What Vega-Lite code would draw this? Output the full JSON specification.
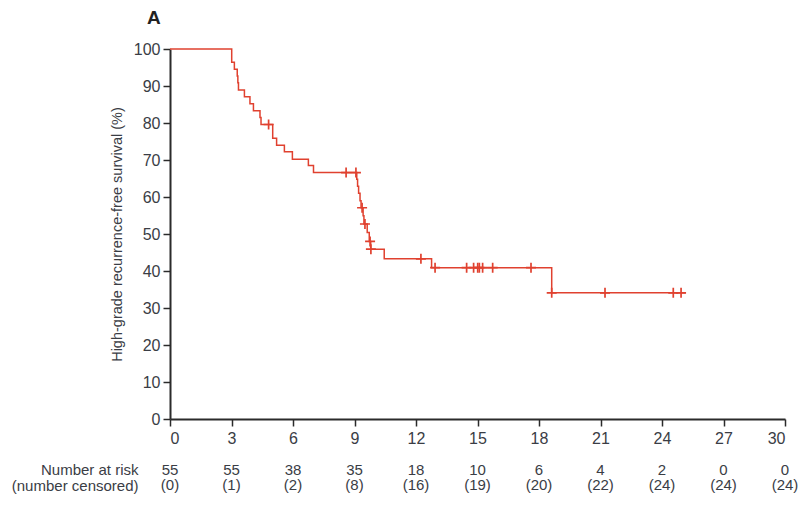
{
  "$schema": "https://vega.github.io/schema/vega-lite/v6.json",
  "padding": {"left": 11, "top": 9, "right": 10, "bottom": 5},
  "background": "white",
  "config": {
    "font": "Liberation Sans",
    "view": {"stroke": null},
    "axis": {
      "grid": false,
      "domainColor": "#2b2b2b",
      "domainWidth": 2,
      "tickColor": "#2b2b2b",
      "tickWidth": 1.5,
      "tickSize": 7,
      "labelFontSize": 16,
      "labelColor": "#3a3d45",
      "labelFont": "Liberation Sans",
      "labelOverlap": false,
      "titleFont": "Liberation Sans",
      "titleFontWeight": "normal",
      "titleColor": "#3a3d45"
    }
  },
  "datasets": {
    "curve": [
      {"month": 0, "survival": 100},
      {"month": 3.01, "survival": 96.4},
      {"month": 3.14, "survival": 94.5},
      {"month": 3.28, "survival": 92.7},
      {"month": 3.31, "survival": 90.9},
      {"month": 3.34, "survival": 88.9},
      {"month": 3.63, "survival": 87.1},
      {"month": 3.90, "survival": 85.2},
      {"month": 4.07, "survival": 83.3},
      {"month": 4.39, "survival": 81.5},
      {"month": 4.44, "survival": 79.6},
      {"month": 5.01, "survival": 75.9},
      {"month": 5.20, "survival": 74.0},
      {"month": 5.58, "survival": 72.2},
      {"month": 5.97, "survival": 70.2},
      {"month": 6.75, "survival": 68.5},
      {"month": 7.00, "survival": 66.6},
      {"month": 9.11, "survival": 64.8},
      {"month": 9.15, "survival": 62.9},
      {"month": 9.20, "survival": 61.0},
      {"month": 9.27, "survival": 59.0},
      {"month": 9.32, "survival": 57.1},
      {"month": 9.42, "survival": 54.9},
      {"month": 9.46, "survival": 52.7},
      {"month": 9.62, "survival": 50.4},
      {"month": 9.72, "survival": 48.0},
      {"month": 9.79, "survival": 45.9},
      {"month": 10.45, "survival": 43.3},
      {"month": 12.76, "survival": 40.9},
      {"month": 18.62, "survival": 34.1},
      {"month": 25.15, "survival": 34.1}
    ],
    "censor": [
      {"month": 4.81, "survival": 79.6},
      {"month": 8.59, "survival": 66.6},
      {"month": 9.07, "survival": 66.6},
      {"month": 9.37, "survival": 57.1},
      {"month": 9.51, "survival": 52.7},
      {"month": 9.76, "survival": 48.0},
      {"month": 9.80, "survival": 45.9},
      {"month": 12.24, "survival": 43.3},
      {"month": 12.93, "survival": 40.9},
      {"month": 14.47, "survival": 40.9},
      {"month": 14.81, "survival": 40.9},
      {"month": 15.01, "survival": 40.9},
      {"month": 15.09, "survival": 40.9},
      {"month": 15.25, "survival": 40.9},
      {"month": 15.74, "survival": 40.9},
      {"month": 17.61, "survival": 40.9},
      {"month": 18.62, "survival": 34.1},
      {"month": 21.22, "survival": 34.1},
      {"month": 24.55, "survival": 34.1},
      {"month": 24.93, "survival": 34.1}
    ],
    "risk": [
      {"month": 0, "row": "Number at risk", "label": "55"},
      {"month": 3, "row": "Number at risk", "label": "55"},
      {"month": 6, "row": "Number at risk", "label": "38"},
      {"month": 9, "row": "Number at risk", "label": "35"},
      {"month": 12, "row": "Number at risk", "label": "18"},
      {"month": 15, "row": "Number at risk", "label": "10"},
      {"month": 18, "row": "Number at risk", "label": "6"},
      {"month": 21, "row": "Number at risk", "label": "4"},
      {"month": 24, "row": "Number at risk", "label": "2"},
      {"month": 27, "row": "Number at risk", "label": "0"},
      {"month": 30, "row": "Number at risk", "label": "0"},
      {"month": 0, "row": "(number censored)", "label": "(0)"},
      {"month": 3, "row": "(number censored)", "label": "(1)"},
      {"month": 6, "row": "(number censored)", "label": "(2)"},
      {"month": 9, "row": "(number censored)", "label": "(8)"},
      {"month": 12, "row": "(number censored)", "label": "(16)"},
      {"month": 15, "row": "(number censored)", "label": "(19)"},
      {"month": 18, "row": "(number censored)", "label": "(20)"},
      {"month": 21, "row": "(number censored)", "label": "(22)"},
      {"month": 24, "row": "(number censored)", "label": "(24)"},
      {"month": 27, "row": "(number censored)", "label": "(24)"},
      {"month": 30, "row": "(number censored)", "label": "(24)"}
    ]
  },
  "spacing": 16,
  "vconcat": [
    {
      "width": 615,
      "height": 370,
      "title": {"text": "A", "anchor": "start", "frame": "group", "dx": -23, "offset": 13, "fontSize": 19, "fontWeight": "bold", "color": "#222222", "font": "Liberation Sans"},
      "encoding": {
        "x": {"field": "month", "type": "quantitative", "scale": {"domain": [0, 30], "nice": false},
              "axis": {"title": null, "values": [0, 3, 6, 9, 12, 15, 18, 21, 24, 27, 30], "labelPadding": 4, "labelOverlap": false}},
        "y": {"field": "survival", "type": "quantitative", "scale": {"domain": [0, 100], "nice": false},
              "axis": {"title": "High-grade recurrence-free survival (%)", "titleFontSize": 14.5, "titlePadding": 9,
                       "values": [0, 10, 20, 30, 40, 50, 60, 70, 80, 90, 100], "tickCount": 11, "labelPadding": 3, "labelOverlap": false}}
      },
      "layer": [
        {
          "data": {"name": "curve"},
          "mark": {"type": "line", "interpolate": "step-after", "color": "#e0412f", "strokeWidth": 1.5}
        },
        {
          "data": {"name": "censor"},
          "mark": {"type": "point", "shape": "M-1,0H1M0,-1V1", "size": 100, "filled": false, "strokeWidth": 1.7, "color": "#e0412f", "opacity": 1}
        }
      ]
    },
    {
      "width": 615,
      "height": 31,
      "data": {"name": "risk"},
      "mark": {"type": "text", "fontSize": 15, "color": "#3a3d45", "font": "Liberation Sans"},
      "encoding": {
        "x": {"field": "month", "type": "quantitative", "scale": {"domain": [0, 30], "nice": false}, "axis": null},
        "y": {"field": "row", "type": "nominal", "sort": ["Number at risk", "(number censored)"],
              "axis": {"title": null, "domain": false, "ticks": false, "labelPadding": 32, "labelFontSize": 15}},
        "text": {"field": "label"}
      }
    }
  ]
}
